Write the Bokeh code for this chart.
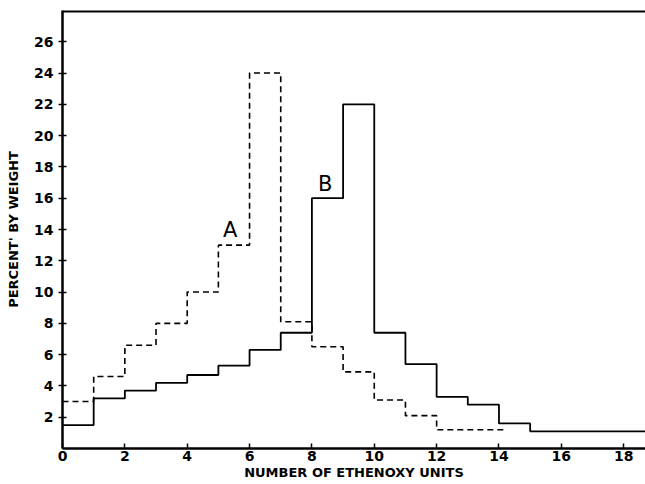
from bokeh.plotting import figure
from bokeh.models import Span, FixedTicker, Range1d
from bokeh.core.properties import value
from bokeh.embed import file_html
from bokeh.resources import INLINE

# Curve A (dashed): percent by weight for each ethenoxy-unit interval
a_edges = [0, 1, 2, 3, 4, 5, 6, 7, 8, 9, 10, 11, 12, 13, 14.2]
a_values = [3.0, 4.6, 6.6, 8.0, 10.0, 13.0, 24.0, 8.1, 6.5, 4.9, 3.1, 2.1, 1.2, 1.2]

# Curve B (solid)
b_edges = [0, 1, 2, 3, 4, 5, 6, 7, 8, 9, 10, 11, 12, 13, 14, 15, 18.7]
b_values = [1.5, 3.2, 3.7, 4.2, 4.7, 5.3, 6.3, 7.4, 16.0, 22.0, 7.4, 5.4, 3.3, 2.8, 1.6, 1.1]

x_ticks = [0, 2, 4, 6, 8, 10, 12, 14, 16, 18]
y_ticks = [2, 4, 6, 8, 10, 12, 14, 16, 18, 20, 22, 24, 26]

labels_text = ["A", "B"]
labels_x = [5.38, 8.43]
labels_y = [14.0, 16.9]

FONT = "DejaVu Sans"

p = figure(width=645, height=482, output_backend="svg", toolbar_location=None,
           x_range=Range1d(0, 18.7), y_range=Range1d(0, 28),
           min_border_left=62, min_border_right=0, min_border_top=10,
           min_border_bottom=10)
p.outline_line_color = None
p.grid.visible = False
p.background_fill_color = "white"
p.border_fill_color = "white"

p.step(a_edges, a_values + [a_values[-1]], mode="after", line_color="black",
       line_width=1.6, line_dash="6 4")
p.step(b_edges, b_values + [b_values[-1]], mode="after", line_color="black",
       line_width=1.8)

p.text(x=labels_x, y=labels_y, text=labels_text, text_font=value(FONT),
       text_font_size="21px", text_align="center", text_baseline="middle",
       text_color="black")

p.add_layout(Span(location=27.95, dimension="width", line_color="black",
                  line_width=2.5))

# Axes
p.xaxis.ticker = FixedTicker(ticks=x_ticks)
p.yaxis.ticker = FixedTicker(ticks=y_ticks)
p.xaxis.minor_tick_line_color = None
p.yaxis.minor_tick_line_color = None
for ax in (p.xaxis, p.yaxis):
    ax.axis_line_width = 2.5
    ax.axis_line_color = "black"
    ax.major_tick_line_color = "black"
    ax.major_tick_line_width = 1.5
    ax.major_label_text_font = FONT
    ax.major_label_text_font_size = "14px"
    ax.major_label_text_font_style = "bold"
    ax.major_label_text_color = "black"
    ax.axis_label_text_font = FONT
    ax.axis_label_text_font_size = "13px"
    ax.axis_label_text_font_style = "bold"
    ax.axis_label_text_color = "black"

p.xaxis.major_tick_in = 5
p.xaxis.major_tick_out = 0
p.xaxis.major_label_standoff = 2
p.xaxis.axis_label = "NUMBER OF ETHENOXY UNITS"
p.xaxis.axis_label_standoff = 1

p.yaxis.major_tick_in = 4
p.yaxis.major_tick_out = 4
p.yaxis.major_label_standoff = 5
p.yaxis.axis_label = "PERCENT' BY WEIGHT"
p.yaxis.axis_label_standoff = 10

open("out.html", "w").write(file_html(p, INLINE))
